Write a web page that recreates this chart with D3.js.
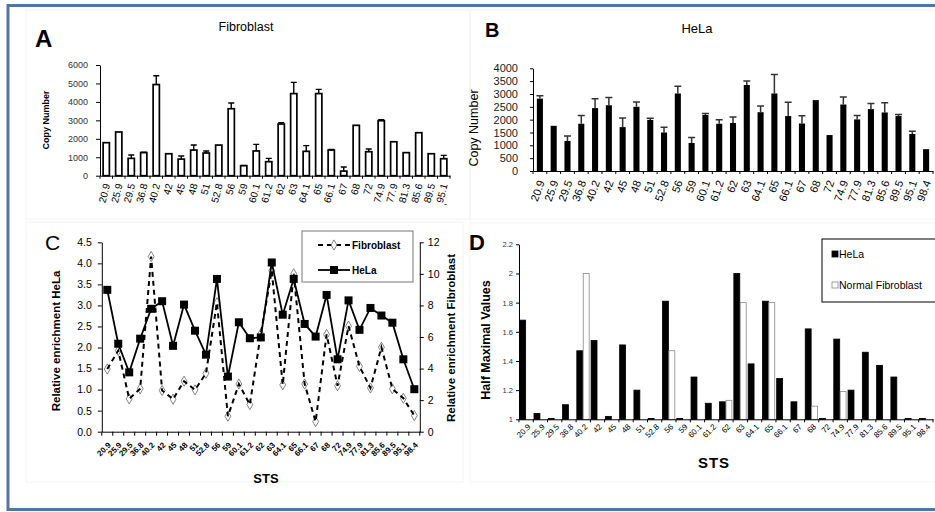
<!DOCTYPE html>
<html>
<head>
<meta charset="utf-8">
<script src="https://cdn.jsdelivr.net/npm/d3@7"></script>
<style>
  body { margin: 0; background: #fff; }
  svg { font-family: Arial, "Liberation Sans", sans-serif; display: block; }
</style>
</head>
<body>
<div class="figure-container"></div>
<script>
// --------------------------------------------------------
// DATA
// --------------------------------------------------------
const stsLabels = ["20.9", "25.9", "29.5", "36.8", "40.2", "42", "45", "48", "51", "52.8",
  "56", "59", "60.1", "61.2", "62", "63", "64.1", "65", "66.1", "67", "68", "72", "74.9",
  "77.9", "81.3", "85.6", "89.5", "95.1", "98.4"];
const stsFibroCopy = stsLabels.slice(0, 28); // panel A stops at 95.1

// A: fibroblast copy number (+ upper error)
const fibroCopyNumber = [1790, 2370, 940, 1250, 4940, 1190, 900, 1390, 1230, 1660, 3630, 540,
  1340, 760, 2800, 4450, 1320, 4450, 1390, 250, 2730, 1300, 2980, 1840, 1250, 2330, 1190, 920];
const fibroCopyError = [0, 0, 180, 20, 480, 0, 170, 270, 110, 0, 310, 20, 360, 180, 70, 610,
  310, 230, 30, 220, 0, 150, 50, 0, 0, 0, 0, 180];

// B: HeLa copy number (+ upper error)
const helaCopyNumber = [2820, 1760, 1170, 1840, 2450, 2560, 1710, 2500, 1990, 1500, 3020, 1090,
  2180, 1840, 1870, 3350, 2290, 3020, 2140, 1850, 2760, 1400, 2590, 2010, 2410, 2280, 2140, 1440, 850];
const helaCopyError = [110, 0, 190, 320, 360, 300, 350, 190, 60, 200, 280, 210, 60, 160, 230, 160,
  240, 740, 540, 300, 0, 0, 290, 150, 220, 380, 60, 110, 0];

// C: relative enrichment
const helaEnrichment = [3.37, 2.09, 1.41, 2.21, 2.92, 3.10, 2.04, 3.02, 2.40, 1.83, 3.63, 1.31,
  2.60, 2.22, 2.24, 4.02, 2.78, 3.63, 2.56, 2.26, 3.25, 1.72, 3.12, 2.42, 2.94, 2.76, 2.59, 1.72, 1.01];
const fibroEnrichment = [3.97, 5.14, 2.08, 2.72, 11.1, 2.61, 2.06, 3.20, 2.65, 3.70, 8.17, 0.98,
  3.02, 1.72, 6.2, 10.2, 2.97, 10.0, 3.02, 0.64, 6.16, 2.91, 6.69, 4.14, 2.77, 5.35, 2.72, 2.12, 1.02];

// D: half maximal values
const helaHalfMax = [1.68, 1.04, 1.005, 1.10, 1.47, 1.54, 1.02, 1.51, 1.20, 1.005, 1.81, 1.005,
  1.29, 1.11, 1.12, 2.0, 1.38, 1.81, 1.28, 1.12, 1.62, 1.005, 1.55, 1.20, 1.46, 1.37, 1.29, 1.005, 1.005];
const fibroHalfMax = [1, 1, 1, 1, 2.0, 1, 1, 1, 1, 1, 1.47, 1, 1, 1, 1.13, 1.8, 1, 1.8, 1, 1,
  1.09, 1, 1.19, 1, 1, 1, 1, 1, 1];

// tick labels
const ticksA = [0, 1000, 2000, 3000, 4000, 5000, 6000];
const ticksB = [0, 500, 1000, 1500, 2000, 2500, 3000, 3500, 4000];
const ticksCLeft = [0, 0.5, 1, 1.5, 2, 2.5, 3, 3.5, 4, 4.5];
const ticksCRight = [0, 2, 4, 6, 8, 10, 12];
const ticksD = [1, 1.2, 1.4, 1.6, 1.8, 2, 2.2];

// --------------------------------------------------------
// SVG + FRAME
// --------------------------------------------------------
const svg = d3.select(".figure-container")
  .append("svg")
  .attr("width", 935)
  .attr("height", 512);

// faint outlines of the four pasted panels
[[26, 10, 444, 209], [470, 10, 470, 209], [26, 222, 437, 260], [470, 223, 470, 259]]
  .forEach(([x, y, w, h]) => {
    svg.append("rect").attr("x", x).attr("y", y).attr("width", w).attr("height", h)
      .attr("fill", "none").attr("stroke", "#f4f4f4");
  });

// boundary ticks for band scales (Excel puts them between categories)
function bandTicks(g, scale, y, len) {
  const [r0] = scale.range();
  g.append("g")
    .selectAll("line")
    .data(d3.range(scale.domain().length + 1))
    .join("line")
    .attr("x1", (i) => r0 + i * scale.step())
    .attr("x2", (i) => r0 + i * scale.step())
    .attr("y1", y)
    .attr("y2", y + len)
    .attr("stroke", "black");
}

function rotatedLabels(g, angle, dx, dy) {
  g.selectAll(".tick text")
    .attr("x", null).attr("y", null).attr("dy", null)
    .attr("text-anchor", "end")
    .attr("transform", `translate(${dx},${dy}) rotate(${angle})`);
}

const plain = d3.format("d");

// --------------------------------------------------------
// PANEL A - Fibroblast copy number
// --------------------------------------------------------
const gA = svg.append("g");
const xA = d3.scaleBand().domain(stsFibroCopy).range([100, 450]).paddingInner(0.5).paddingOuter(0.25);
const yA = d3.scaleLinear().domain([0, 6000]).range([175.7, 65]);
const rowsA = stsFibroCopy.map((sts, i) => ({ sts, value: fibroCopyNumber[i], err: fibroCopyError[i] }));

gA.append("text").attr("x", 35).attr("y", 47).attr("font-size", 24).attr("font-weight", "bold").text("A");
gA.append("text").attr("x", 246).attr("y", 31).attr("font-size", 12.5).attr("text-anchor", "middle").text("Fibroblast");
gA.append("text")
  .attr("transform", "translate(49,120) rotate(-90)")
  .attr("text-anchor", "middle").attr("font-size", 9).attr("font-weight", "bold")
  .text("Copy Number");

gA.append("g")
  .attr("transform", "translate(100,0)")
  .call(d3.axisLeft(yA).tickValues(ticksA).tickFormat(plain).tickSize(4).tickSizeOuter(0).tickPadding(8))
  .call((g) => g.selectAll("text").attr("font-size", 9).attr("fill", "#333").attr("font-family", null));

gA.selectAll(".barA")
  .data(rowsA)
  .join("rect")
  .attr("x", (d) => xA(d.sts))
  .attr("y", (d) => yA(d.value))
  .attr("width", xA.bandwidth())
  .attr("height", (d) => yA(0) - yA(d.value))
  .attr("fill", "white")
  .attr("stroke", "black")
  .attr("stroke-width", 1.7);

gA.selectAll(".errA")
  .data(rowsA.filter((d) => d.err > 0))
  .join("path")
  .attr("d", (d) => {
    const cx = xA(d.sts) + xA.bandwidth() / 2;
    const top = yA(d.value + d.err);
    return `M${cx},${yA(d.value)}V${top}M${cx - 3},${top}H${cx + 3}`;
  })
  .attr("stroke", "black")
  .attr("stroke-width", 1.4)
  .attr("fill", "none");

gA.append("g")
  .attr("transform", `translate(0,${yA(0)})`)
  .call(d3.axisBottom(xA).tickSize(0).tickSizeOuter(0))
  .call((g) => g.selectAll("text").attr("font-size", 10).attr("font-family", null))
  .call((g) => rotatedLabels(g, -75, 4, 9));
bandTicks(gA, xA, yA(0), 3);
gA.append("text").attr("x", 444).attr("y", 207).attr("font-size", 9).text("-");

// --------------------------------------------------------
// PANEL B - HeLa copy number
// --------------------------------------------------------
const gB = svg.append("g");
const xB = d3.scaleBand().domain(stsLabels).range([533, 933]).paddingInner(0.56).paddingOuter(0.28);
const yB = d3.scaleLinear().domain([0, 4000]).range([171, 68.3]);
const rowsB = stsLabels.map((sts, i) => ({ sts, value: helaCopyNumber[i], err: helaCopyError[i] }));

gB.append("text").attr("x", 485).attr("y", 37).attr("font-size", 20).attr("font-weight", "bold").text("B");
gB.append("text").attr("x", 697).attr("y", 33).attr("font-size", 13).attr("text-anchor", "middle").text("HeLa");
gB.append("text")
  .attr("transform", "translate(478,128) rotate(-90)")
  .attr("text-anchor", "middle").attr("font-size", 12.5)
  .text("Copy Number");

gB.append("g")
  .attr("transform", "translate(533,0)")
  .call(d3.axisLeft(yB).tickValues(ticksB).tickFormat(plain).tickSize(3).tickSizeOuter(0).tickPadding(12))
  .call((g) => g.selectAll("text").attr("font-size", 11).attr("fill", "#222").attr("font-family", null));

gB.selectAll(".barB")
  .data(rowsB)
  .join("rect")
  .attr("x", (d) => xB(d.sts))
  .attr("y", (d) => yB(d.value))
  .attr("width", xB.bandwidth())
  .attr("height", (d) => yB(0) - yB(d.value))
  .attr("fill", "black");

gB.selectAll(".errB")
  .data(rowsB.filter((d) => d.err > 0))
  .join("path")
  .attr("d", (d) => {
    const cx = xB(d.sts) + xB.bandwidth() / 2;
    const top = yB(d.value + d.err);
    return `M${cx},${yB(d.value)}V${top}M${cx - 3.5},${top}H${cx + 3.5}`;
  })
  .attr("stroke", "#333")
  .attr("stroke-width", 1.5)
  .attr("fill", "none");

gB.append("g")
  .attr("transform", `translate(0,${yB(0)})`)
  .call(d3.axisBottom(xB).tickSize(0).tickSizeOuter(0))
  .call((g) => g.selectAll("text").attr("font-size", 11).attr("font-family", null))
  .call((g) => rotatedLabels(g, -70, 5, 11));
bandTicks(gB, xB, yB(0), 3);

// --------------------------------------------------------
// PANEL C - relative enrichment lines
// --------------------------------------------------------
const gC = svg.append("g");
const xC = d3.scaleBand().domain(stsLabels).range([101.8, 419.8]);
const yCLeft = d3.scaleLinear().domain([0, 4.5]).range([431.7, 242.3]);
const yCRight = d3.scaleLinear().domain([0, 12]).range([431.7, 242.3]);
const cx = (sts) => xC(sts) + xC.bandwidth() / 2;
const rowsC = stsLabels.map((sts, i) => ({ sts, hela: helaEnrichment[i], fibro: fibroEnrichment[i] }));

gC.append("text").attr("x", 45).attr("y", 250).attr("font-size", 21).text("C");
gC.append("text")
  .attr("transform", "translate(60,341) rotate(-90)")
  .attr("text-anchor", "middle").attr("font-size", 11.5).attr("font-weight", "bold")
  .text("Relative enrichment HeLa");
gC.append("text")
  .attr("transform", "translate(455,338) rotate(-90)")
  .attr("text-anchor", "middle").attr("font-size", 11.5).attr("font-weight", "bold")
  .text("Relative enrichment Fibroblast");

gC.append("g")
  .attr("transform", "translate(101.8,0)")
  .call(d3.axisLeft(yCLeft).tickValues(ticksCLeft).tickSize(4).tickSizeOuter(0).tickPadding(6))
  .call((g) => g.selectAll("text").attr("font-size", 10.5).attr("font-family", null));
gC.append("g")
  .attr("transform", "translate(419.8,0)")
  .call(d3.axisRight(yCRight).tickValues(ticksCRight).tickSize(4).tickSizeOuter(0).tickPadding(4))
  .call((g) => g.selectAll("text").attr("font-size", 10.5).attr("font-family", null));

gC.append("g")
  .attr("transform", `translate(0,${yCLeft(0)})`)
  .call(d3.axisBottom(xC).tickSize(0).tickSizeOuter(0))
  .call((g) => g.selectAll("text").attr("font-size", 8).attr("font-weight", "bold").attr("font-family", null))
  .call((g) => rotatedLabels(g, -45, 4, 14));
bandTicks(gC, xC, yCLeft(0), 4);

gC.append("text").attr("x", 266).attr("y", 483).attr("font-size", 13).attr("font-weight", "bold")
  .attr("text-anchor", "middle").text("STS");

const diamond = d3.symbol().type(d3.symbolDiamond).size(30);

// fibroblast: open diamonds + dashed line
gC.selectAll(".fibroPt")
  .data(rowsC)
  .join("path")
  .attr("d", diamond)
  .attr("transform", (d) => `translate(${cx(d.sts)},${yCRight(d.fibro)})`)
  .attr("fill", "white")
  .attr("stroke", "#666")
  .attr("stroke-width", 0.8);

gC.append("path")
  .datum(rowsC)
  .attr("fill", "none")
  .attr("stroke", "black")
  .attr("stroke-width", 2)
  .attr("stroke-dasharray", "5,4")
  .attr("d", d3.line().x((d) => cx(d.sts)).y((d) => yCRight(d.fibro)));

// HeLa: solid line + filled squares
gC.append("path")
  .datum(rowsC)
  .attr("fill", "none")
  .attr("stroke", "black")
  .attr("stroke-width", 1.8)
  .attr("d", d3.line().x((d) => cx(d.sts)).y((d) => yCLeft(d.hela)));

gC.selectAll(".helaPt")
  .data(rowsC)
  .join("rect")
  .attr("x", (d) => cx(d.sts) - 4)
  .attr("y", (d) => yCLeft(d.hela) - 4)
  .attr("width", 8)
  .attr("height", 8)
  .attr("fill", "black");

// legend
const legC = gC.append("g");
legC.append("rect").attr("x", 302).attr("y", 231).attr("width", 111).attr("height", 51)
  .attr("fill", "white").attr("stroke", "#777");
legC.append("line").attr("x1", 318).attr("x2", 350).attr("y1", 245).attr("y2", 245)
  .attr("stroke", "black").attr("stroke-width", 2).attr("stroke-dasharray", "5,4");
legC.append("path").attr("d", diamond).attr("transform", "translate(334,245)")
  .attr("fill", "white").attr("stroke", "#666").attr("stroke-width", 0.8);
legC.append("text").attr("x", 352).attr("y", 249).attr("font-size", 10).attr("font-weight", "bold").text("Fibroblast");
legC.append("line").attr("x1", 318).attr("x2", 350).attr("y1", 270).attr("y2", 270)
  .attr("stroke", "black").attr("stroke-width", 1.8);
legC.append("rect").attr("x", 330).attr("y", 266).attr("width", 8).attr("height", 8).attr("fill", "black");
legC.append("text").attr("x", 352).attr("y", 274).attr("font-size", 10).attr("font-weight", "bold").text("HeLa");

// --------------------------------------------------------
// PANEL D - half maximal values
// --------------------------------------------------------
const gD = svg.append("g");
const seriesD = ["HeLa", "Normal Fibroblast"];
const xD = d3.scaleBand().domain(stsLabels).range([519, 933]).paddingInner(0.1).paddingOuter(0.05);
const xDSub = d3.scaleBand().domain(seriesD).range([0, xD.bandwidth()]);
const yD = d3.scaleLinear().domain([1, 2.2]).range([419.3, 244.3]);
const rowsD = stsLabels.flatMap((sts, i) => [
  { sts, series: "HeLa", value: helaHalfMax[i] },
  { sts, series: "Normal Fibroblast", value: fibroHalfMax[i] },
]).filter((d) => d.value > 1);
const fillD = { "HeLa": "black", "Normal Fibroblast": "white" };
const strokeD = { "HeLa": "black", "Normal Fibroblast": "#888" };

gD.append("text").attr("x", 469).attr("y", 250).attr("font-size", 22).attr("font-weight", "bold").text("D");
gD.append("text")
  .attr("transform", "translate(490,340) rotate(-90)")
  .attr("text-anchor", "middle").attr("font-size", 12.5).attr("font-weight", "bold")
  .text("Half Maximal Values");

gD.append("g")
  .attr("transform", "translate(519,0)")
  .call(d3.axisLeft(yD).tickValues(ticksD).tickFormat(d3.format("~g")).tickSize(3).tickSizeOuter(0).tickPadding(3))
  .call((g) => g.selectAll("text").attr("font-size", 7.5).attr("fill", "#333").attr("font-family", null));

gD.selectAll(".barD")
  .data(rowsD)
  .join("rect")
  .attr("x", (d) => xD(d.sts) + xDSub(d.series))
  .attr("y", (d) => yD(d.value))
  .attr("width", xDSub.bandwidth() - 0.5)
  .attr("height", (d) => yD(1) - yD(d.value))
  .attr("fill", (d) => fillD[d.series])
  .attr("stroke", (d) => strokeD[d.series])
  .attr("stroke-width", 0.8);

gD.append("g")
  .attr("transform", `translate(0,${yD(1)})`)
  .call(d3.axisBottom(xD).tickSize(0).tickSizeOuter(0))
  .call((g) => g.selectAll("text").attr("font-size", 8).attr("font-family", null))
  .call((g) => rotatedLabels(g, -45, 5, 8));
bandTicks(gD, xD, yD(1), 3);

gD.append("text").attr("x", 714).attr("y", 468).attr("font-size", 15).attr("font-weight", "bold")
  .attr("text-anchor", "middle").attr("letter-spacing", 1).text("STS");

// legend
const legD = gD.append("g");
legD.append("rect").attr("x", 822).attr("y", 239).attr("width", 120).attr("height", 63)
  .attr("fill", "white").attr("stroke", "black");
seriesD.forEach((s, i) => {
  const y = 258 + i * 31;
  legD.append("rect").attr("x", 832).attr("y", y - 7).attr("width", 6).attr("height", 6)
    .attr("fill", fillD[s]).attr("stroke", strokeD[s]).attr("stroke-width", 0.8);
  legD.append("text").attr("x", 839).attr("y", y).attr("font-size", 10.5).text(s);
});

// outer blue frame
svg.append("path")
  .attr("d", "M8,511V5.5H935M8,509.5H935")
  .attr("fill", "none")
  .attr("stroke", "#5474a3")
  .attr("stroke-width", 3);
</script>
</body>
</html>
